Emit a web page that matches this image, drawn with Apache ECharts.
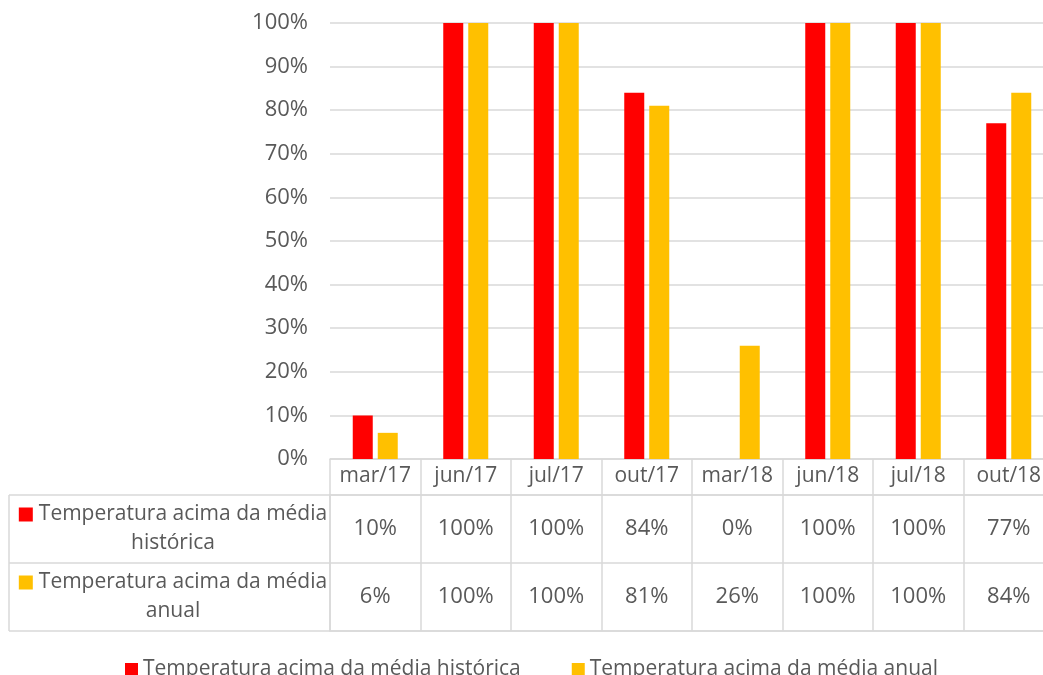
<!DOCTYPE html>
<html>
<head>
<meta charset="utf-8">
<script src="https://cdn.jsdelivr.net/npm/echarts@6/dist/echarts.min.js"></script>
<style>
  html, body { margin: 0; padding: 0; background: #fff; }
  #chart { width: 1043px; height: 675px; }
</style>
</head>
<body>
<div id="chart"></div>
<script>
// dados
const categories = ["mar/17", "jun/17", "jul/17", "out/17", "mar/18", "jun/18", "jul/18", "out/18"];
const seriesNames = ["Temperatura acima da média histórica", "Temperatura acima da média anual"];
const historica = [10, 100, 100, 84, 0, 100, 100, 77];
const anual = [6, 100, 100, 81, 26, 100, 100, 84];
const colors = ["#ff0000", "#ffc000"];

const font = "'Open Sans', sans-serif";
const textColor = "#595959";
const lineColor = "#d9d9d9";

// células da tabela de dados: [coluna, linha, valor]
const tableData = [];
[historica, anual].forEach((arr, row) => {
  arr.forEach((v, col) => tableData.push([col, row, v]));
});

const chart = echarts.init(document.getElementById("chart"));

const option = {
  animation: false,
  textStyle: { fontFamily: font },
  grid: [
    { left: 330, top: 23, width: 724, height: 436, outerBoundsMode: "none", containLabel: false },
    { left: 330, top: 495, width: 724, height: 136, outerBoundsMode: "none", containLabel: false,
      show: true, borderColor: lineColor, borderWidth: 1.5 }
  ],
  legend: {
    data: seriesNames,
    left: 120,
    top: 654,
    itemWidth: 13,
    itemHeight: 13,
    itemGap: 51,
    icon: "rect",
    textStyle: { fontSize: 21, color: textColor, fontFamily: font }
  },
  xAxis: [
    {
      type: "category",
      gridIndex: 0,
      data: categories,
      axisLine: { lineStyle: { color: lineColor, width: 1.5 } },
      axisTick: { show: true, interval: 0, length: 36, lineStyle: { color: lineColor, width: 1.5 } },
      axisLabel: { interval: 0, margin: 7, fontSize: 21, color: textColor, fontFamily: font }
    },
    {
      type: "category",
      gridIndex: 1,
      data: categories,
      axisLine: { show: false },
      axisTick: { show: false },
      axisLabel: { show: false },
      splitLine: { show: true, interval: 0, lineStyle: { color: lineColor, width: 1.5 } }
    }
  ],
  yAxis: [
    {
      type: "value",
      gridIndex: 0,
      min: 0,
      max: 100,
      interval: 10,
      axisLine: { show: false },
      axisTick: { show: false },
      axisLabel: { formatter: "{value}%", margin: 22, fontSize: 22, color: textColor, fontFamily: font },
      splitLine: { lineStyle: { color: lineColor, width: 1.5 } }
    },
    {
      type: "category",
      gridIndex: 1,
      inverse: true,
      data: seriesNames,
      axisLine: { show: false },
      axisTick: { show: true, interval: 0, length: 321, lineStyle: { color: lineColor, width: 1.5 } },
      splitLine: { show: true, interval: 0, lineStyle: { color: lineColor, width: 1.5 } },
      axisLabel: {
        interval: 0,
        margin: 157,
        align: "center",
        fontSize: 21,
        lineHeight: 29,
        color: textColor,
        fontFamily: font,
        formatter: (name, idx) => "{sq" + idx + "|}{gap|}" + name.replace("média ", "média\n"),
        rich: {
          sq0: { width: 14, height: 14, backgroundColor: colors[0] },
          sq1: { width: 14, height: 14, backgroundColor: colors[1] },
          gap: { width: 6 }
        }
      }
    }
  ],
  series: [
    {
      name: seriesNames[0],
      type: "bar",
      xAxisIndex: 0,
      yAxisIndex: 0,
      data: historica,
      barWidth: 20,
      barGap: "25%",
      itemStyle: { color: colors[0] }
    },
    {
      name: seriesNames[1],
      type: "bar",
      xAxisIndex: 0,
      yAxisIndex: 0,
      data: anual,
      barWidth: 20,
      itemStyle: { color: colors[1] }
    },
    {
      name: "tabela",
      type: "heatmap",
      xAxisIndex: 1,
      yAxisIndex: 1,
      data: tableData,
      itemStyle: { color: "rgba(0,0,0,0)" },
      label: {
        show: true,
        fontSize: 22,
        color: textColor,
        fontFamily: font,
        formatter: p => p.value[2] + "%"
      }
    }
  ],
  graphic: [
    {
      type: "line",
      shape: { x1: 9, y1: 495, x2: 9, y2: 631 },
      style: { stroke: lineColor, lineWidth: 1.5 }
    }
  ]
};

chart.setOption(option);
</script>
</body>
</html>
